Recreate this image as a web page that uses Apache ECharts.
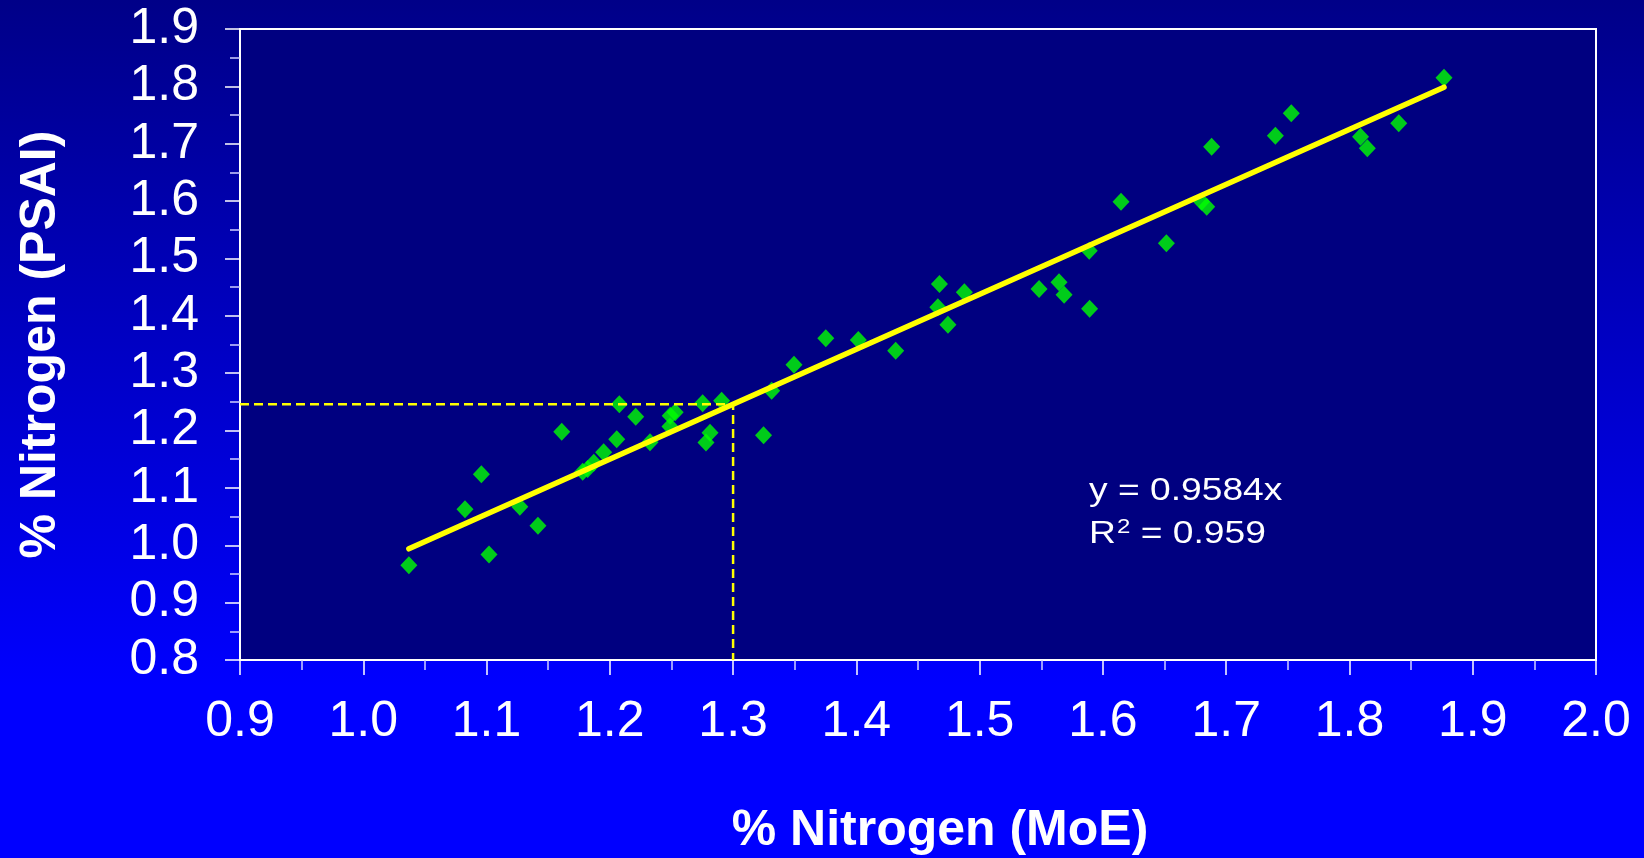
<!DOCTYPE html>
<html>
<head>
<meta charset="utf-8">
<script src="https://cdn.jsdelivr.net/npm/echarts@6/dist/echarts.min.js"></script>
<style>
html,body{margin:0;padding:0;width:1644px;height:858px;overflow:hidden;}
#chart{width:1644px;height:858px;}
</style>
</head>
<body>
<div id="chart"></div>
<script>
// ---- data ----
const xTicks = [0.9, 1.0, 1.1, 1.2, 1.3, 1.4, 1.5, 1.6, 1.7, 1.8, 1.9, 2.0];
const yTicks = [0.8, 0.9, 1.0, 1.1, 1.2, 1.3, 1.4, 1.5, 1.6, 1.7, 1.8, 1.9];
const moeN = [1.037, 1.0825, 1.0958, 1.102, 1.127, 1.1417, 1.161, 1.178, 1.182, 1.187,
              1.195, 1.2056, 1.2077, 1.221, 1.2326, 1.2488, 1.249, 1.253, 1.2753, 1.278,
              1.2813, 1.2907, 1.3247, 1.3313, 1.3494, 1.3752, 1.4016, 1.4319, 1.4661, 1.4674,
              1.4743, 1.4876, 1.5482, 1.5644, 1.5685, 1.5889, 1.5892, 1.6147, 1.6515, 1.680,
              1.6842, 1.6882, 1.7399, 1.7528, 1.809, 1.8145, 1.840, 1.8767];
const psaiN = [0.965, 1.063, 1.124, 0.984, 1.067, 1.034, 1.198, 1.128, 1.133, 1.144,
               1.162, 1.185, 1.246, 1.224, 1.1795, 1.207, 1.226, 1.232, 1.2475, 1.179,
               1.196, 1.252, 1.1917, 1.2694, 1.3148, 1.361, 1.3578, 1.3392, 1.4148, 1.4554,
               1.3845, 1.441, 1.4467, 1.4584, 1.4368, 1.5135, 1.4124, 1.5989, 1.5264, 1.599,
               1.590, 1.6948, 1.714, 1.753, 1.7123, 1.692, 1.7356, 1.8148];
const slope = 0.9584;
const rSquared = 0.959;
const readX = 1.3;   // reading guide at MoE = 1.3

// ---- build series data ----
const points = moeN.map((x, i) => [x, psaiN[i]]);
const xMinD = Math.min(...moeN), xMaxD = Math.max(...moeN);
const trend = [[xMinD, slope * xMinD], [xMaxD, slope * xMaxD]];
const readY = slope * readX;
const guide = [[xTicks[0], readY], [readX, readY], [readX, yTicks[0]]];

const FONT = "'Liberation Sans', Arial, sans-serif";
const chart = echarts.init(document.getElementById('chart'), null, {renderer: 'canvas'});

const axisCommon = {
  type: 'value',
  interval: 0.1,
  axisLine: {show: true, onZero: false, lineStyle: {color: '#ffffff', width: 2}},
  axisTick: {show: true, inside: false, length: 15, lineStyle: {color: '#ffffff', width: 1.5}},
  minorTick: {show: true, splitNumber: 2, length: 10, lineStyle: {color: '#d0d0ff', width: 1.5}},
  splitLine: {show: false},
  minorSplitLine: {show: false},
  axisLabel: {color: '#ffffff', fontSize: 50, fontFamily: FONT, formatter: v => v.toFixed(1)},
  nameLocation: 'middle',
  nameTextStyle: {color: '#ffffff', fontSize: 50, fontWeight: 'bold', fontFamily: FONT}
};

chart.setOption({
  animation: false,
  backgroundColor: {
    type: 'linear', x: 0, y: 0, x2: 0, y2: 1,
    colorStops: [{offset: 0, color: '#000088'}, {offset: 0.8, color: '#0000ff'}, {offset: 1, color: '#0000ff'}]
  },
  grid: {
    left: 240, top: 29, right: 48, bottom: 198,
    containLabel: false, outerBoundsMode: 'none',
    show: true, backgroundColor: '#000080', borderColor: '#ffffff', borderWidth: 2
  },
  xAxis: Object.assign({}, axisCommon, {
    min: xTicks[0], max: xTicks[xTicks.length - 1],
    name: '% Nitrogen (MoE)', nameGap: 146,
    axisLabel: Object.assign({}, axisCommon.axisLabel, {margin: 37}),
    nameTextStyle: Object.assign({}, axisCommon.nameTextStyle, {padding: [0, 0, 0, 44]})
  }),
  yAxis: Object.assign({}, axisCommon, {
    min: yTicks[0], max: yTicks[yTicks.length - 1],
    name: '% Nitrogen (PSAI)', nameGap: 174, nameRotate: 90,
    axisLabel: Object.assign({}, axisCommon.axisLabel, {margin: 41})
  }),
  series: [
    {
      type: 'scatter', data: points, symbol: 'diamond', symbolSize: [17, 18],
      itemStyle: {color: '#00ff00'}, z: 2
    },
    {
      type: 'line', data: guide, symbol: 'none', z: 3,
      lineStyle: {color: '#ffff00', width: 2.5, type: [9, 5]}
    },
    {
      type: 'line', data: trend, symbol: 'none', z: 4,
      lineStyle: {color: '#ffff00', width: 5.5, cap: 'round'}
    }
  ],
  graphic: [
    {
      type: 'text', x: 1089, y: 491, scaleX: 1.2, z: 10,
      style: {text: 'y = ' + slope + 'x', fill: '#ffffff', font: '31px ' + FONT, verticalAlign: 'middle'}
    },
    {
      type: 'text', x: 1089, y: 533, scaleX: 1.2, z: 10,
      style: {
        text: '{a|R}{s|2}{a| = ' + rSquared + '}',
        fill: '#ffffff', verticalAlign: 'middle',
        rich: {
          a: {fontSize: 31, fontFamily: FONT, fill: '#ffffff', verticalAlign: 'bottom', lineHeight: 34},
          s: {fontSize: 20, fontFamily: FONT, fill: '#ffffff', verticalAlign: 'top', lineHeight: 34, padding: [1, 0, 0, 1]}
        }
      }
    }
  ]
});
</script>
</body>
</html>
